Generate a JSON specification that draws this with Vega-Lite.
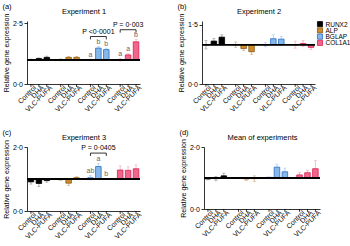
{
"$schema": "https://vega.github.io/schema/vega-lite/v6.json",
"padding": {"left": 2, "right": 2, "top": 2, "bottom": 2},
"config": {
 "font": "Liberation Sans",
 "view": {"stroke": null},
 "axis": {"labelFontSize": 7, "titleFontSize": 7, "titleFontWeight": "normal", "domainColor": "#000", "tickColor": "#000", "labelColor": "#000", "titleColor": "#000", "grid": false, "tickSize": 3, "labelPadding": 1.5, "titlePadding": 3, "domainWidth": 0.8, "tickWidth": 0.8},
 "title": {"fontSize": 7.5, "fontWeight": "normal", "offset": 4, "color": "#000"}
},
"datasets": {
 "bars": [
  {"panel": "a", "gene": "RUNX2", "treatment": "Control", "mean": 1.0, "sd": 0.03, "letter": ""},
  {"panel": "a", "gene": "RUNX2", "treatment": "DHA", "mean": 1.05, "sd": 0.03, "letter": ""},
  {"panel": "a", "gene": "RUNX2", "treatment": "VLC-PUFA", "mean": 1.1, "sd": 0.05, "letter": ""},
  {"panel": "a", "gene": "ALP", "treatment": "Control", "mean": 1.0, "sd": 0.04, "letter": ""},
  {"panel": "a", "gene": "ALP", "treatment": "DHA", "mean": 1.1, "sd": 0.04, "letter": ""},
  {"panel": "a", "gene": "ALP", "treatment": "VLC-PUFA", "mean": 1.1, "sd": 0.04, "letter": ""},
  {"panel": "a", "gene": "BGLAP", "treatment": "Control", "mean": 1.0, "sd": 0.03, "letter": "a"},
  {"panel": "a", "gene": "BGLAP", "treatment": "DHA", "mean": 1.48, "sd": 0.07, "letter": "b"},
  {"panel": "a", "gene": "BGLAP", "treatment": "VLC-PUFA", "mean": 1.42, "sd": 0.06, "letter": "b"},
  {"panel": "a", "gene": "COL1A1", "treatment": "Control", "mean": 1.0, "sd": 0.05, "letter": "a"},
  {"panel": "a", "gene": "COL1A1", "treatment": "DHA", "mean": 1.2, "sd": 0.06, "letter": "a"},
  {"panel": "a", "gene": "COL1A1", "treatment": "VLC-PUFA", "mean": 1.74, "sd": 0.09, "letter": "b"},
  {"panel": "b", "gene": "RUNX2", "treatment": "Control", "mean": 1.0, "sd": 0.11, "letter": ""},
  {"panel": "b", "gene": "RUNX2", "treatment": "DHA", "mean": 1.09, "sd": 0.07, "letter": ""},
  {"panel": "b", "gene": "RUNX2", "treatment": "VLC-PUFA", "mean": 1.19, "sd": 0.06, "letter": ""},
  {"panel": "b", "gene": "ALP", "treatment": "Control", "mean": 1.0, "sd": 0.07, "letter": ""},
  {"panel": "b", "gene": "ALP", "treatment": "DHA", "mean": 0.9, "sd": 0.05, "letter": ""},
  {"panel": "b", "gene": "ALP", "treatment": "VLC-PUFA", "mean": 0.82, "sd": 0.07, "letter": ""},
  {"panel": "b", "gene": "BGLAP", "treatment": "Control", "mean": 1.0, "sd": 0.05, "letter": ""},
  {"panel": "b", "gene": "BGLAP", "treatment": "DHA", "mean": 1.15, "sd": 0.1, "letter": ""},
  {"panel": "b", "gene": "BGLAP", "treatment": "VLC-PUFA", "mean": 1.14, "sd": 0.07, "letter": ""},
  {"panel": "b", "gene": "COL1A1", "treatment": "Control", "mean": 1.0, "sd": 0.09, "letter": ""},
  {"panel": "b", "gene": "COL1A1", "treatment": "DHA", "mean": 1.03, "sd": 0.08, "letter": ""},
  {"panel": "b", "gene": "COL1A1", "treatment": "VLC-PUFA", "mean": 0.93, "sd": 0.06, "letter": ""},
  {"panel": "c", "gene": "RUNX2", "treatment": "Control", "mean": 0.91, "sd": 0.07, "letter": ""},
  {"panel": "c", "gene": "RUNX2", "treatment": "DHA", "mean": 0.86, "sd": 0.1, "letter": ""},
  {"panel": "c", "gene": "RUNX2", "treatment": "VLC-PUFA", "mean": 0.95, "sd": 0.05, "letter": ""},
  {"panel": "c", "gene": "ALP", "treatment": "Control", "mean": 0.98, "sd": 0.02, "letter": ""},
  {"panel": "c", "gene": "ALP", "treatment": "DHA", "mean": 0.87, "sd": 0.07, "letter": ""},
  {"panel": "c", "gene": "ALP", "treatment": "VLC-PUFA", "mean": 1.04, "sd": 0.03, "letter": ""},
  {"panel": "c", "gene": "BGLAP", "treatment": "Control", "mean": 1.04, "sd": 0.07, "letter": "ab"},
  {"panel": "c", "gene": "BGLAP", "treatment": "DHA", "mean": 1.39, "sd": 0.1, "letter": "a"},
  {"panel": "c", "gene": "BGLAP", "treatment": "VLC-PUFA", "mean": 1.0, "sd": 0.01, "letter": "b"},
  {"panel": "c", "gene": "COL1A1", "treatment": "Control", "mean": 1.28, "sd": 0.13, "letter": ""},
  {"panel": "c", "gene": "COL1A1", "treatment": "DHA", "mean": 1.27, "sd": 0.11, "letter": ""},
  {"panel": "c", "gene": "COL1A1", "treatment": "VLC-PUFA", "mean": 1.32, "sd": 0.12, "letter": ""},
  {"panel": "d", "gene": "RUNX2", "treatment": "Control", "mean": 0.97, "sd": 0.03, "letter": ""},
  {"panel": "d", "gene": "RUNX2", "treatment": "DHA", "mean": 0.98, "sd": 0.07, "letter": ""},
  {"panel": "d", "gene": "RUNX2", "treatment": "VLC-PUFA", "mean": 1.07, "sd": 0.09, "letter": ""},
  {"panel": "d", "gene": "ALP", "treatment": "Control", "mean": 1.0, "sd": 0.01, "letter": ""},
  {"panel": "d", "gene": "ALP", "treatment": "DHA", "mean": 0.97, "sd": 0.05, "letter": ""},
  {"panel": "d", "gene": "ALP", "treatment": "VLC-PUFA", "mean": 0.98, "sd": 0.09, "letter": ""},
  {"panel": "d", "gene": "BGLAP", "treatment": "Control", "mean": 1.02, "sd": 0.01, "letter": ""},
  {"panel": "d", "gene": "BGLAP", "treatment": "DHA", "mean": 1.35, "sd": 0.1, "letter": ""},
  {"panel": "d", "gene": "BGLAP", "treatment": "VLC-PUFA", "mean": 1.2, "sd": 0.12, "letter": ""},
  {"panel": "d", "gene": "COL1A1", "treatment": "Control", "mean": 1.1, "sd": 0.08, "letter": ""},
  {"panel": "d", "gene": "COL1A1", "treatment": "DHA", "mean": 1.17, "sd": 0.08, "letter": ""},
  {"panel": "d", "gene": "COL1A1", "treatment": "VLC-PUFA", "mean": 1.3, "sd": 0.27, "letter": ""}
 ],
 "brackets": [
  {"panel": "a", "bid": "a1", "gene": "BGLAP", "treatment": "Control", "y": 1.84, "ord": 1},
  {"panel": "a", "bid": "a1", "gene": "BGLAP", "treatment": "Control", "y": 1.96, "ord": 2},
  {"panel": "a", "bid": "a1", "gene": "BGLAP", "treatment": "VLC-PUFA", "y": 1.96, "ord": 3},
  {"panel": "a", "bid": "a1", "gene": "BGLAP", "treatment": "VLC-PUFA", "y": 1.84, "ord": 4},
  {"panel": "a", "bid": "a2", "gene": "COL1A1", "treatment": "Control", "y": 2.12, "ord": 1},
  {"panel": "a", "bid": "a2", "gene": "COL1A1", "treatment": "Control", "y": 2.24, "ord": 2},
  {"panel": "a", "bid": "a2", "gene": "COL1A1", "treatment": "VLC-PUFA", "y": 2.24, "ord": 3},
  {"panel": "a", "bid": "a2", "gene": "COL1A1", "treatment": "VLC-PUFA", "y": 2.12, "ord": 4},
  {"panel": "c", "bid": "c1", "gene": "BGLAP", "treatment": "Control", "y": 1.72, "ord": 1},
  {"panel": "c", "bid": "c1", "gene": "BGLAP", "treatment": "Control", "y": 1.81, "ord": 2},
  {"panel": "c", "bid": "c1", "gene": "BGLAP", "treatment": "VLC-PUFA", "y": 1.81, "ord": 3},
  {"panel": "c", "bid": "c1", "gene": "BGLAP", "treatment": "VLC-PUFA", "y": 1.72, "ord": 4}
 ],
 "ptext": [
  {"panel": "a", "gene": "BGLAP", "y": 1.96, "label": "P <0·0001"},
  {"panel": "a", "gene": "COL1A1", "y": 2.24, "label": "P = 0·003"},
  {"panel": "c", "gene": "BGLAP", "y": 1.81, "label": "P = 0·0405"}
 ],
 "genes": [
  {"gene": "RUNX2"}, {"gene": "ALP"}, {"gene": "BGLAP"}, {"gene": "COL1A1"}
 ]
},
"spacing": 14,
"resolve": {"scale": {"x": "independent", "y": "independent"}},
"vconcat": [
 {"hconcat": [
  {"width": 113, "height": 63,
   "title": {"text": "(a)", "anchor": "start", "frame": "bounds", "offset": -3},
   "resolve": {"axis": {"x": "independent"}},
   "layer": [
    {"data": {"name": "bars"},
     "transform": [{"filter": "datum.panel === 'a'"}, {"calculate": "datum.mean - datum.sd", "as": "lo"}, {"calculate": "datum.mean + datum.sd", "as": "hi"}],
     "encoding": {
      "x": {"field": "gene", "type": "nominal", "scale": {"domain": ["RUNX2", "ALP", "BGLAP", "COL1A1"], "paddingInner": 0.2, "paddingOuter": 0}, "axis": {"title": null, "labels": false, "ticks": false}},
      "xOffset": {"field": "treatment", "type": "nominal", "scale": {"domain": ["Control", "DHA", "VLC-PUFA"], "paddingInner": 0.3, "paddingOuter": 0.15}}
     },
     "layer": [
      {"mark": {"type": "rule", "strokeWidth": 0.7},
       "encoding": {"y": {"field": "lo", "type": "quantitative", "scale": {"domain": [0, 2.5]}, "axis": {"title": "Relative gene expression", "values": [0, 0.5, 1, 1.5, 2, 2.5], "labelExpr": "replace(format(datum.value, '.1f'), '.', '·')"}}, "y2": {"field": "hi"},
        "color": {"field": "gene", "type": "nominal", "scale": {"domain": ["RUNX2", "ALP", "BGLAP", "COL1A1"], "range": ["#8a8a8a", "#c9a06a", "#9cc3ee", "#f3a0b5"]}, "legend": null}}},
      {"mark": {"type": "tick", "orient": "horizontal", "size": 3, "thickness": 0.7},
       "encoding": {"y": {"field": "hi", "type": "quantitative"}, "color": {"field": "gene", "type": "nominal", "legend": null}}},
      {"mark": {"type": "tick", "orient": "horizontal", "size": 3, "thickness": 0.7},
       "encoding": {"y": {"field": "lo", "type": "quantitative"}, "color": {"field": "gene", "type": "nominal", "legend": null}}},
      {"mark": {"type": "bar", "strokeWidth": 0.8},
       "encoding": {"y": {"field": "mean", "type": "quantitative"}, "y2": {"datum": 1},
        "fill": {"field": "gene", "type": "nominal", "scale": {"domain": ["RUNX2", "ALP", "BGLAP", "COL1A1"], "range": ["#000000", "#cd8a2e", "#86b7ea", "#f2668b"]}, "legend": null},
        "stroke": {"field": "gene", "type": "nominal", "scale": {"domain": ["RUNX2", "ALP", "BGLAP", "COL1A1"], "range": ["#000000", "#8a5a14", "#2a6fc4", "#d81e4e"]}, "legend": null}}},
      {"mark": {"type": "rule", "strokeWidth": 0.9, "color": "#000"}, "encoding": {"y": {"datum": 1}, "x": null, "xOffset": null}},
      {"mark": {"type": "rule", "strokeWidth": 0.8, "color": "#000"}, "encoding": {"y": {"datum": 0}, "y2": {"datum": -0.12}}},
      {"mark": {"type": "text", "angle": 315, "align": "right", "baseline": "middle", "fontSize": 7, "dy": 5, "dx": 1}, "encoding": {"y": {"datum": 0}, "text": {"field": "treatment"}}},
      {"transform": [{"filter": "datum.letter != ''"}], "mark": {"type": "text", "baseline": "bottom", "fontSize": 7, "dy": -1.5, "color": "#666"}, "encoding": {"y": {"field": "hi", "type": "quantitative"}, "text": {"field": "letter"}}}
     ]},
    {"data": {"name": "brackets"}, "transform": [{"filter": "datum.panel === 'a'"}],
     "mark": {"type": "line", "strokeWidth": 0.8, "color": "#000"},
     "encoding": {"x": {"field": "gene", "type": "nominal", "axis": null}, "xOffset": {"field": "treatment", "type": "nominal"}, "y": {"field": "y", "type": "quantitative"}, "order": {"field": "ord"}, "detail": {"field": "bid"}}},
    {"data": {"name": "ptext"}, "transform": [{"filter": "datum.panel === 'a'"}],
     "mark": {"type": "text", "baseline": "bottom", "fontSize": 7, "dy": -2, "color": "#000"},
     "encoding": {"x": {"field": "gene", "type": "nominal", "axis": null}, "y": {"field": "y", "type": "quantitative"}, "text": {"field": "label"}}},
    {"data": {"name": "bars"}, "transform": [{"filter": "datum.panel === 'a'"}],
     "mark": {"type": "rule", "opacity": 0},
     "encoding": {"x": {"field": "gene", "type": "nominal", "axis": {"orient": "top", "title": "Experiment 1", "titleFontSize": 7.5, "labels": false, "ticks": false, "domain": false, "titlePadding": 6}}}}
   ]
  },
  {"hconcat": [
   {"width": 113, "height": 63,
    "title": {"text": "(b)", "anchor": "start", "frame": "bounds", "offset": -3},
    "resolve": {"axis": {"x": "independent"}},
    "layer": [
     {"data": {"name": "bars"},
      "transform": [{"filter": "datum.panel === 'b'"}, {"calculate": "datum.mean - datum.sd", "as": "lo"}, {"calculate": "datum.mean + datum.sd", "as": "hi"}],
      "encoding": {
       "x": {"field": "gene", "type": "nominal", "scale": {"domain": ["RUNX2", "ALP", "BGLAP", "COL1A1"], "paddingInner": 0.2, "paddingOuter": 0}, "axis": {"title": null, "labels": false, "ticks": false}},
       "xOffset": {"field": "treatment", "type": "nominal", "scale": {"domain": ["Control", "DHA", "VLC-PUFA"], "paddingInner": 0.3, "paddingOuter": 0.15}}
      },
      "layer": [
       {"mark": {"type": "rule", "strokeWidth": 0.7},
        "encoding": {"y": {"field": "lo", "type": "quantitative", "scale": {"domain": [0, 1.5]}, "axis": {"title": "Relative gene expression", "values": [0, 0.5, 1, 1.5], "labelExpr": "replace(format(datum.value, '.1f'), '.', '·')"}}, "y2": {"field": "hi"},
         "color": {"field": "gene", "type": "nominal", "scale": {"domain": ["RUNX2", "ALP", "BGLAP", "COL1A1"], "range": ["#8a8a8a", "#c9a06a", "#9cc3ee", "#f3a0b5"]}, "legend": null}}},
       {"mark": {"type": "tick", "orient": "horizontal", "size": 3, "thickness": 0.7},
        "encoding": {"y": {"field": "hi", "type": "quantitative"}, "color": {"field": "gene", "type": "nominal", "legend": null}}},
       {"mark": {"type": "tick", "orient": "horizontal", "size": 3, "thickness": 0.7},
        "encoding": {"y": {"field": "lo", "type": "quantitative"}, "color": {"field": "gene", "type": "nominal", "legend": null}}},
       {"mark": {"type": "bar", "strokeWidth": 0.8},
        "encoding": {"y": {"field": "mean", "type": "quantitative"}, "y2": {"datum": 1},
         "fill": {"field": "gene", "type": "nominal", "scale": {"domain": ["RUNX2", "ALP", "BGLAP", "COL1A1"], "range": ["#000000", "#cd8a2e", "#86b7ea", "#f2668b"]}, "legend": null},
         "stroke": {"field": "gene", "type": "nominal", "scale": {"domain": ["RUNX2", "ALP", "BGLAP", "COL1A1"], "range": ["#000000", "#8a5a14", "#2a6fc4", "#d81e4e"]}, "legend": null}}},
       {"mark": {"type": "rule", "strokeWidth": 0.9, "color": "#000"}, "encoding": {"y": {"datum": 1}, "x": null, "xOffset": null}},
       {"mark": {"type": "rule", "strokeWidth": 0.8, "color": "#000"}, "encoding": {"y": {"datum": 0}, "y2": {"datum": -0.07}}},
       {"mark": {"type": "text", "angle": 315, "align": "right", "baseline": "middle", "fontSize": 7, "dy": 5, "dx": 1}, "encoding": {"y": {"datum": 0}, "text": {"field": "treatment"}}}
      ]},
     {"data": {"name": "bars"}, "transform": [{"filter": "datum.panel === 'b'"}],
      "mark": {"type": "rule", "opacity": 0},
      "encoding": {"x": {"field": "gene", "type": "nominal", "axis": {"orient": "top", "title": "Experiment 2", "titleFontSize": 7.5, "labels": false, "ticks": false, "domain": false, "titlePadding": 6}}}}
    ]
   },
   {"width": 6, "height": 25,
    "data": {"name": "genes"},
    "mark": {"type": "square", "size": 26, "opacity": 1, "filled": true, "strokeWidth": 0.8},
    "encoding": {
     "y": {"field": "gene", "type": "nominal", "scale": {"domain": ["RUNX2", "ALP", "BGLAP", "COL1A1"], "paddingInner": 0, "paddingOuter": 0}, "axis": {"orient": "right", "title": null, "domain": false, "ticks": false, "labelFontSize": 6.5, "labelPadding": 2}},
     "fill": {"field": "gene", "type": "nominal", "scale": {"domain": ["RUNX2", "ALP", "BGLAP", "COL1A1"], "range": ["#000000", "#cd8a2e", "#86b7ea", "#f2668b"]}, "legend": null},
     "stroke": {"field": "gene", "type": "nominal", "scale": {"domain": ["RUNX2", "ALP", "BGLAP", "COL1A1"], "range": ["#000000", "#8a5a14", "#2a6fc4", "#d81e4e"]}, "legend": null}
    }
   }
  ], "spacing": 2, "bounds": "flush", "resolve": {"scale": {"x": "independent", "y": "independent"}}}
 ], "spacing": 33, "resolve": {"scale": {"x": "independent", "y": "independent"}}},
 {"hconcat": [
  {"width": 113, "height": 64,
   "title": {"text": "(c)", "anchor": "start", "frame": "bounds", "offset": -3},
   "resolve": {"axis": {"x": "independent"}},
   "layer": [
    {"data": {"name": "bars"},
     "transform": [{"filter": "datum.panel === 'c'"}, {"calculate": "datum.mean - datum.sd", "as": "lo"}, {"calculate": "datum.mean + datum.sd", "as": "hi"}],
     "encoding": {
      "x": {"field": "gene", "type": "nominal", "scale": {"domain": ["RUNX2", "ALP", "BGLAP", "COL1A1"], "paddingInner": 0.2, "paddingOuter": 0}, "axis": {"title": null, "labels": false, "ticks": false}},
      "xOffset": {"field": "treatment", "type": "nominal", "scale": {"domain": ["Control", "DHA", "VLC-PUFA"], "paddingInner": 0.3, "paddingOuter": 0.15}}
     },
     "layer": [
      {"mark": {"type": "rule", "strokeWidth": 0.7},
       "encoding": {"y": {"field": "lo", "type": "quantitative", "scale": {"domain": [0, 2]}, "axis": {"title": "Relative gene expression", "values": [0, 0.5, 1, 1.5, 2], "labelExpr": "replace(format(datum.value, '.1f'), '.', '·')"}}, "y2": {"field": "hi"},
        "color": {"field": "gene", "type": "nominal", "scale": {"domain": ["RUNX2", "ALP", "BGLAP", "COL1A1"], "range": ["#8a8a8a", "#c9a06a", "#9cc3ee", "#f3a0b5"]}, "legend": null}}},
      {"mark": {"type": "tick", "orient": "horizontal", "size": 3, "thickness": 0.7},
       "encoding": {"y": {"field": "hi", "type": "quantitative"}, "color": {"field": "gene", "type": "nominal", "legend": null}}},
      {"mark": {"type": "tick", "orient": "horizontal", "size": 3, "thickness": 0.7},
       "encoding": {"y": {"field": "lo", "type": "quantitative"}, "color": {"field": "gene", "type": "nominal", "legend": null}}},
      {"mark": {"type": "bar", "strokeWidth": 0.8},
       "encoding": {"y": {"field": "mean", "type": "quantitative"}, "y2": {"datum": 1},
        "fill": {"field": "gene", "type": "nominal", "scale": {"domain": ["RUNX2", "ALP", "BGLAP", "COL1A1"], "range": ["#000000", "#cd8a2e", "#86b7ea", "#f2668b"]}, "legend": null},
        "stroke": {"field": "gene", "type": "nominal", "scale": {"domain": ["RUNX2", "ALP", "BGLAP", "COL1A1"], "range": ["#000000", "#8a5a14", "#2a6fc4", "#d81e4e"]}, "legend": null}}},
      {"mark": {"type": "rule", "strokeWidth": 0.9, "color": "#000"}, "encoding": {"y": {"datum": 1}, "x": null, "xOffset": null}},
      {"mark": {"type": "rule", "strokeWidth": 0.8, "color": "#000"}, "encoding": {"y": {"datum": 0}, "y2": {"datum": -0.09}}},
      {"mark": {"type": "text", "angle": 315, "align": "right", "baseline": "middle", "fontSize": 7, "dy": 5, "dx": 1}, "encoding": {"y": {"datum": 0}, "text": {"field": "treatment"}}},
      {"transform": [{"filter": "datum.letter != ''"}], "mark": {"type": "text", "baseline": "bottom", "fontSize": 7, "dy": -1.5, "color": "#666"}, "encoding": {"y": {"field": "hi", "type": "quantitative"}, "text": {"field": "letter"}}}
     ]},
    {"data": {"name": "brackets"}, "transform": [{"filter": "datum.panel === 'c'"}],
     "mark": {"type": "line", "strokeWidth": 0.8, "color": "#000"},
     "encoding": {"x": {"field": "gene", "type": "nominal", "axis": null}, "xOffset": {"field": "treatment", "type": "nominal"}, "y": {"field": "y", "type": "quantitative"}, "order": {"field": "ord"}, "detail": {"field": "bid"}}},
    {"data": {"name": "ptext"}, "transform": [{"filter": "datum.panel === 'c'"}],
     "mark": {"type": "text", "baseline": "bottom", "fontSize": 7, "dy": -2, "color": "#000"},
     "encoding": {"x": {"field": "gene", "type": "nominal", "axis": null}, "y": {"field": "y", "type": "quantitative"}, "text": {"field": "label"}}},
    {"data": {"name": "bars"}, "transform": [{"filter": "datum.panel === 'c'"}],
     "mark": {"type": "rule", "opacity": 0},
     "encoding": {"x": {"field": "gene", "type": "nominal", "axis": {"orient": "top", "title": "Experiment 3", "titleFontSize": 7.5, "labels": false, "ticks": false, "domain": false, "titlePadding": 6}}}}
   ]
  },
  {"width": 116, "height": 62,
   "title": {"text": "(d)", "anchor": "start", "frame": "bounds", "offset": -3},
   "resolve": {"axis": {"x": "independent"}},
   "layer": [
    {"data": {"name": "bars"},
     "transform": [{"filter": "datum.panel === 'd'"}, {"calculate": "datum.mean - datum.sd", "as": "lo"}, {"calculate": "datum.mean + datum.sd", "as": "hi"}],
     "encoding": {
      "x": {"field": "gene", "type": "nominal", "scale": {"domain": ["RUNX2", "ALP", "BGLAP", "COL1A1"], "paddingInner": 0.2, "paddingOuter": 0}, "axis": {"title": null, "labels": false, "ticks": false}},
      "xOffset": {"field": "treatment", "type": "nominal", "scale": {"domain": ["Control", "DHA", "VLC-PUFA"], "paddingInner": 0.3, "paddingOuter": 0.15}}
     },
     "layer": [
      {"mark": {"type": "rule", "strokeWidth": 0.7},
       "encoding": {"y": {"field": "lo", "type": "quantitative", "scale": {"domain": [0, 2]}, "axis": {"title": "Relative gene expression", "values": [0, 0.5, 1, 1.5, 2], "labelExpr": "replace(format(datum.value, '.1f'), '.', '·')"}}, "y2": {"field": "hi"},
        "color": {"field": "gene", "type": "nominal", "scale": {"domain": ["RUNX2", "ALP", "BGLAP", "COL1A1"], "range": ["#8a8a8a", "#c9a06a", "#9cc3ee", "#f3a0b5"]}, "legend": null}}},
      {"mark": {"type": "tick", "orient": "horizontal", "size": 3, "thickness": 0.7},
       "encoding": {"y": {"field": "hi", "type": "quantitative"}, "color": {"field": "gene", "type": "nominal", "legend": null}}},
      {"mark": {"type": "tick", "orient": "horizontal", "size": 3, "thickness": 0.7},
       "encoding": {"y": {"field": "lo", "type": "quantitative"}, "color": {"field": "gene", "type": "nominal", "legend": null}}},
      {"mark": {"type": "bar", "strokeWidth": 0.8},
       "encoding": {"y": {"field": "mean", "type": "quantitative"}, "y2": {"datum": 1},
        "fill": {"field": "gene", "type": "nominal", "scale": {"domain": ["RUNX2", "ALP", "BGLAP", "COL1A1"], "range": ["#000000", "#cd8a2e", "#86b7ea", "#f2668b"]}, "legend": null},
        "stroke": {"field": "gene", "type": "nominal", "scale": {"domain": ["RUNX2", "ALP", "BGLAP", "COL1A1"], "range": ["#000000", "#8a5a14", "#2a6fc4", "#d81e4e"]}, "legend": null}}},
      {"mark": {"type": "rule", "strokeWidth": 0.9, "color": "#000"}, "encoding": {"y": {"datum": 1}, "x": null, "xOffset": null}},
      {"mark": {"type": "rule", "strokeWidth": 0.8, "color": "#000"}, "encoding": {"y": {"datum": 0}, "y2": {"datum": -0.09}}},
      {"mark": {"type": "text", "angle": 315, "align": "right", "baseline": "middle", "fontSize": 7, "dy": 5, "dx": 1}, "encoding": {"y": {"datum": 0}, "text": {"field": "treatment"}}}
     ]},
    {"data": {"name": "bars"}, "transform": [{"filter": "datum.panel === 'd'"}],
     "mark": {"type": "rule", "opacity": 0},
     "encoding": {"x": {"field": "gene", "type": "nominal", "axis": {"orient": "top", "title": "Mean of experiments", "titleFontSize": 7.5, "labels": false, "ticks": false, "domain": false, "titlePadding": 6}}}}
   ]
  }
 ], "spacing": 36, "resolve": {"scale": {"x": "independent", "y": "independent"}}}
]
}
